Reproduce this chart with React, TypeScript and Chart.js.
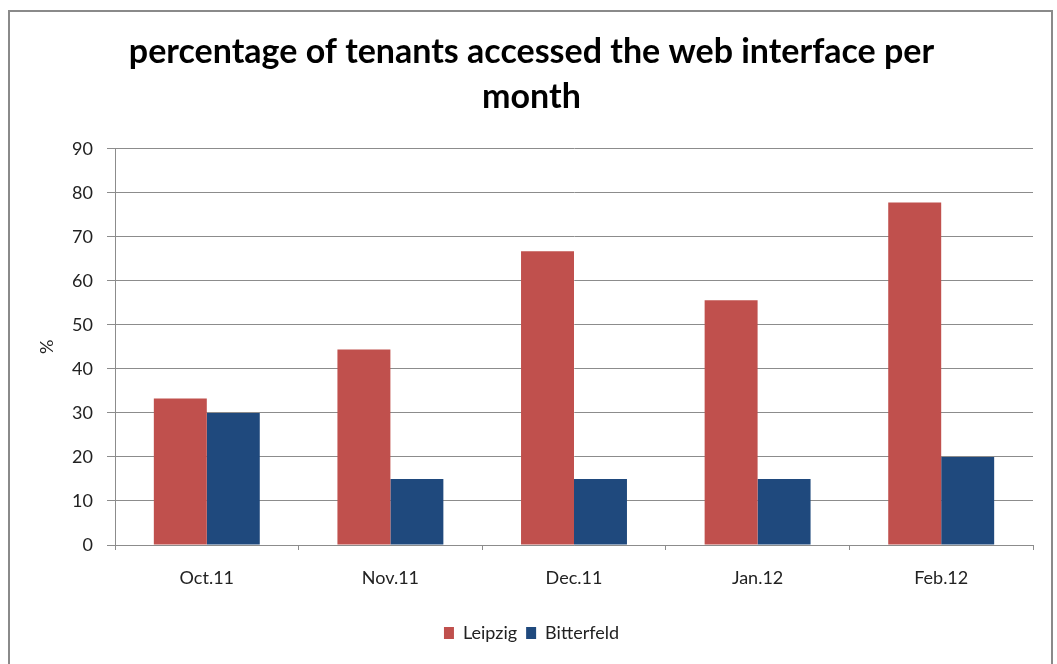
import React, { useEffect, useRef } from "react";
import { Chart, registerables } from "chart.js";

Chart.register(...registerables);

const categories = ["Oct.11", "Nov.11", "Dec.11", "Jan.12", "Feb.12"];
const leipzig = [33.3, 44.4, 66.7, 55.6, 77.8];
const bitterfeld = [30, 15, 15, 15, 20];
const titleLines = ["percentage of tenants accessed the web interface per", "month"];
const yTitle = "%";

const FONT = "Lato, 'Open Sans', sans-serif";

export default function App() {
  const ref = useRef<HTMLCanvasElement | null>(null);

  useEffect(() => {
    if (!ref.current) return;
    const chart = new Chart(ref.current, {
      type: "bar",
      data: {
        labels: categories,
        datasets: [
          { label: "Leipzig", data: leipzig, backgroundColor: "#C0504D", borderWidth: 0 },
          { label: "Bitterfeld", data: bitterfeld, backgroundColor: "#1F497D", borderWidth: 0 },
        ],
      },
      options: {
        responsive: false,
        animation: false,
        devicePixelRatio: 1,
        layout: { padding: { left: 30, right: 24, top: 10, bottom: 12 } },
        datasets: { bar: { categoryPercentage: 0.577, barPercentage: 1 } },
        plugins: {
          title: {
            display: true,
            text: titleLines,
            color: "#000",
            font: { family: FONT, size: 34, weight: "bold", lineHeight: 1.32 },
            padding: { top: 20, bottom: 29 },
          },
          legend: {
            position: "bottom",
            labels: {
              boxWidth: 10,
              boxHeight: 12,
              color: "#222",
              font: { family: FONT, size: 18 },
              padding: 9,
            },
          },
          tooltip: { enabled: false },
        },
        scales: {
          x: {
            grid: { offset: true, drawOnChartArea: false, drawTicks: true, tickLength: 5, color: "#8c8c8c" },
            border: { color: "#8c8c8c" },
            ticks: { color: "#222", font: { family: FONT, size: 18 }, padding: 17 },
            afterFit: (s: any) => { s.height = 70; },
          },
          y: {
            min: 0,
            max: 90,
            ticks: { stepSize: 10, color: "#222", font: { family: FONT, size: 18 }, padding: 14 },
            grid: { color: "#8c8c8c", tickLength: 8 },
            border: { color: "#8c8c8c" },
            title: { display: true, text: yTitle, color: "#222", font: { family: FONT, size: 18 }, padding: { top: 6, bottom: 0 } },
            afterFit: (s: any) => { s.width = 85; },
          },
        },
      },
    });
    return () => chart.destroy();
  }, []);

  return (
    <div style={{ position: "absolute", left: 0, top: 0, width: 1057, height: 664, overflow: "hidden", background: "#fff" }}>
      <canvas ref={ref} width={1057} height={664} style={{ position: "absolute", left: 0, top: 0 }} />
      <div
        style={{
          position: "absolute",
          left: 8,
          top: 10,
          width: 1045,
          height: 700,
          border: "2px solid #8a8a8a",
          borderBottom: "none",
          pointerEvents: "none",
          boxSizing: "border-box",
        }}
      />
    </div>
  );
}
